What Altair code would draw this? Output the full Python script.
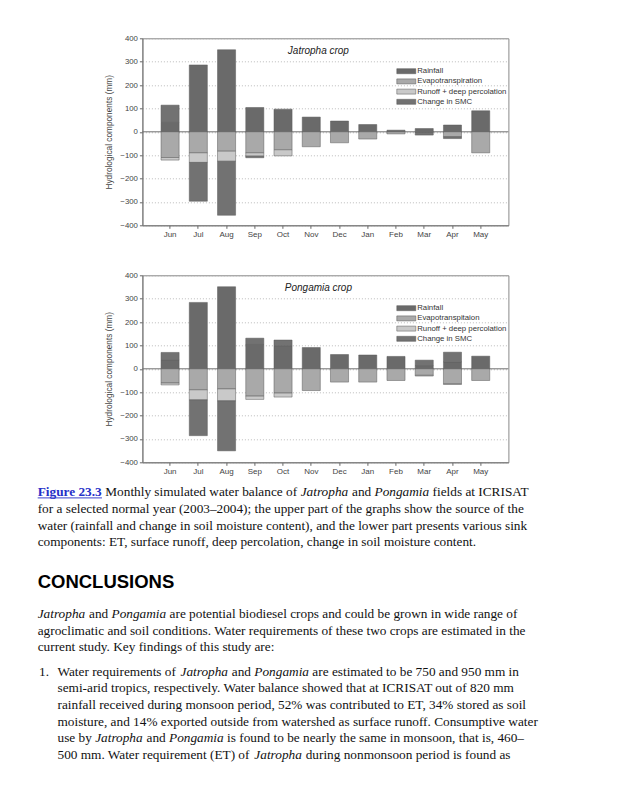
import altair as alt
import pandas as pd

# ---------------- data ----------------
months = ["Jun", "Jul", "Aug", "Sep", "Oct", "Nov", "Dec", "Jan", "Feb", "Mar", "Apr", "May"]

jatropha_series = ["Rainfall", "Evapotranspiration", "Runoff + deep percolation", "Change in SMC"]
pongamia_series = ["Rainfall", "Evapotranspitaion", "Runoff + deep percolation", "Change in SMC"]

jatropha_rainfall = [40, 286, 351, 104, 97, 63, 46, 31, 7, 14, 29, 90]
jatropha_et = [-110, -90, -83, -90, -77, -64, -47, -31, -9, -3, -21, -90]
jatropha_runoff = [-11, -41, -43, -14, -26, 0, 0, 0, 0, 0, 0, 0]
jatropha_smc = [74, -166, -231, -7, 0, 0, 0, 0, 0, -11, -8, 0]

pongamia_rainfall = [39, 284, 351, 104, 99, 91, 61, 59, 53, 14, 30, 54]
pongamia_et = [-61, -90, -86, -117, -104, -93, -57, -57, -50, -28, -64, -50]
pongamia_runoff = [-8, -43, -51, -14, -17, 0, 0, 0, 0, -3, -3, 0]
pongamia_smc = [31, -153, -214, 27, 24, 0, 0, 0, 0, 23, 41, 0]

y_ticks = [-400, -300, -200, -100, 0, 100, 200, 300, 400]

caption_lines = [
    [("Figure 23.3", "link"), ("Monthly simulated water balance of", "reg"), ("Jatropha", "it"),
     ("and", "reg"), ("Pongamia", "it"), ("fields at ICRISAT", "reg")],
    [("for a selected normal year (2003–2004); the upper part of the graphs show the source of the", "reg")],
    [("water (rainfall and change in soil moisture content), and the lower part presents various sink", "reg")],
    [("components: ET, surface runoff, deep percolation, change in soil moisture content.", "reg")],
]
heading = "CONCLUSIONS"
para_lines = [
    [("Jatropha", "it"), ("and", "reg"), ("Pongamia", "it"),
     ("are potential biodiesel crops and could be grown in wide range of", "reg")],
    [("agroclimatic and soil conditions. Water requirements of these two crops are estimated in the", "reg")],
    [("current study. Key findings of this study are:", "reg")],
]
list_marker = "1."
list_lines = [
    [("Water requirements of", "reg"), ("Jatropha", "it"), ("and", "reg"), ("Pongamia", "it"),
     ("are estimated to be 750 and 950 mm in", "reg")],
    [("semi-arid tropics, respectively. Water balance showed that at ICRISAT out of 820 mm", "reg")],
    [("rainfall received during monsoon period, 52% was contributed to ET, 34% stored as soil", "reg")],
    [("moisture, and 14% exported outside from watershed as surface runoff. Consumptive water", "reg")],
    [("use by", "reg"), ("Jatropha", "it"), ("and", "reg"), ("Pongamia", "it"),
     ("is found to be nearly the same in monsoon, that is, 460–", "reg")],
    [("500 mm. Water requirement (ET) of", "reg"), ("Jatropha", "it"),
     ("during nonmonsoon period is found as", "reg")],
]

# ---------------- styles ----------------
colors = ["#6a6a6a", "#a9a9a9", "#c9c9c9", "#727272"]
SANS = "Liberation Sans"
SERIF = "Liberation Serif"
LINK = "#2630c8"
TXT = "#111111"
FS = 13.3          # body font size
PLOT_W, PLOT_H = 366, 187
SPACING = 50

# approximate Times/Liberation Serif advance widths (em)
_reg = {}
for chars, w in [(" ,.", .25), ("ijlt/:;", .278), ("fr()-I", .333), ("sJ", .389), ("acez", .444),
                 ("bdghknopquvxy0123456789–", .5), ("FPS", .556), ("ELTZ", .611), ("BCR", .667),
                 ("wADGHKNOQUVXY", .722), ("m", .778), ("%", .833), ("M", .889), ("W", .944)]:
    for c in chars:
        _reg[c] = w
_it = {"J": .444, "P": .611, "a": .5, "t": .278, "r": .389, "o": .5, "p": .5, "h": .5,
       "n": .5, "g": .5, "m": .722, "i": .278}
_bold = {"F": .611, "i": .278, "g": .5, "u": .556, "r": .444, "e": .444, " ": .25, ".": .25}


def text_width(s, kind):
    table = {"reg": _reg, "it": _it, "link": _bold}[kind]
    return sum(table.get(c, _reg.get(c, .5)) for c in s) * FS


# text block positions (relative to the plot-area left edge / text panel top)
X_LEFT = 37 - 141.7
X_NUM = 38.3 - 141.7
X_LIST = 56.8 - 141.7
TOP = 511
STEP = 16.65
cap_y0 = 495 - TOP
head_y = 586.7 - TOP
para_y0 = 616.8 - TOP
list_y0 = 674.3 - TOP

rows = []


def add_line(segments, x0, y):
    x = x0
    for text, kind in segments:
        rows.append({"text": text, "kind": kind, "x": x, "y": y})
        x += text_width(text, kind) + .25 * FS


for i, segs in enumerate(caption_lines):
    add_line(segs, X_LEFT, cap_y0 + i * STEP)
rows.append({"text": heading, "kind": "head", "x": X_LEFT, "y": head_y})
for i, segs in enumerate(para_lines):
    add_line(segs, X_LEFT, para_y0 + i * STEP)
rows.append({"text": list_marker, "kind": "reg", "x": X_NUM, "y": list_y0})
for i, segs in enumerate(list_lines):
    add_line(segs, X_LIST, list_y0 + i * STEP)
tdf = pd.DataFrame(rows)

# ---------------- panels ----------------


def panel(series, values, title):
    recs = []
    for k, (name, vals) in enumerate(zip(series, values)):
        for m, v in zip(months, vals):
            if v != 0:
                recs.append({"month": m, "component": name, "order": k, "value": v})
    df = pd.DataFrame(recs)

    zero = alt.Chart(pd.DataFrame({"v": [0]})).mark_rule(color="#707070", strokeWidth=1).encode(
        y=alt.Y("v:Q", scale=alt.Scale(domain=[-400, 400], nice=False))
    )
    bars = alt.Chart(df).mark_bar(stroke="#5a5a5a", strokeWidth=0.5).encode(
        x=alt.X("month:N", sort=months,
                scale=alt.Scale(paddingInner=0.36, paddingOuter=0.66),
                axis=alt.Axis(title=None, labelAngle=0, tickSize=3, tickColor="#666",
                              domainColor="#777", labelFontSize=8, labelColor="#444",
                              labelPadding=2, labelFont=SANS)),
        y=alt.Y("value:Q", stack="zero",
                scale=alt.Scale(domain=[-400, 400], nice=False),
                axis=alt.Axis(title="Hydrological components (mm)", values=y_ticks,
                              labelOverlap=False, tickCount=9,
                              tickSize=3, tickColor="#666", domainColor="#777",
                              labelFontSize=7.8, labelColor="#444", labelPadding=2,
                              labelFont=SANS, titleFont=SANS, titleFontSize=8.3,
                              titleFontWeight="normal", titleColor="#444", titlePadding=6,
                              grid=True, gridDash=[1, 2], gridColor="#aaaaaa", gridWidth=0.8)),
        color=alt.Color("component:N", sort=series,
                        scale=alt.Scale(domain=series, range=colors),
                        legend=alt.Legend(title=None, orient="none", legendX=253, legendY=29,
                                          symbolType="M-3.8,-1H3.8V1H-3.8Z", symbolSize=25,
                                          symbolStrokeWidth=0.5, symbolStrokeColor="#555",
                                          labelFontSize=7.8, labelFont=SANS, labelColor="#333",
                                          rowPadding=1.2, symbolOffset=7, labelOffset=7,
                                          padding=0)),
        order=alt.Order("order:Q"),
    )
    ttl = alt.Chart(pd.DataFrame({"t": [title]})).mark_text(
        font=SANS, fontStyle="italic", fontSize=10, color="#222"
    ).encode(text="t:N", x=alt.value(176), y=alt.value(13))
    return alt.layer(zero, bars, ttl).properties(width=PLOT_W, height=PLOT_H)


top = panel(jatropha_series, [jatropha_rainfall, jatropha_et, jatropha_runoff, jatropha_smc], "Jatropha crop")
bottom = panel(pongamia_series, [pongamia_rainfall, pongamia_et, pongamia_runoff, pongamia_smc], "Pongamia crop")


def tlayer(kind, **kw):
    return alt.Chart(tdf).transform_filter(alt.datum.kind == kind).mark_text(
        align="left", baseline="alphabetic", **kw
    ).encode(
        x=alt.X("x:Q", scale=None, axis=None),
        y=alt.Y("y:Q", scale=None, axis=None),
        text="text:N",
    )


link_w = text_width(caption_lines[0][0][0], "link")
underline = alt.Chart(pd.DataFrame({"u": [0]})).mark_rule(color=LINK, strokeWidth=0.9).encode(
    x=alt.value(X_LEFT), x2=alt.value(X_LEFT + link_w), y=alt.value(cap_y0 + 1.6)
)

text_panel = alt.layer(
    tlayer("reg", font=SERIF, fontSize=FS, color=TXT),
    tlayer("it", font=SERIF, fontSize=FS, fontStyle="italic", color=TXT),
    tlayer("link", font=SERIF, fontSize=FS, fontWeight="bold", color=LINK),
    tlayer("head", font=SANS, fontSize=18.5, fontWeight="bold", color="#000"),
    underline,
).properties(width=PLOT_W, height=250, view=alt.ViewBackground(strokeOpacity=0))

chart = alt.vconcat(
    top, bottom, text_panel, spacing=SPACING, bounds="flush",
    padding={"left": 28.4, "top": 25.3, "right": 5, "bottom": 5},
).resolve_scale(color="independent").configure_view(stroke="#888", strokeWidth=1)

chart.save("out.html", embed_options={"renderer": "svg", "actions": False})
